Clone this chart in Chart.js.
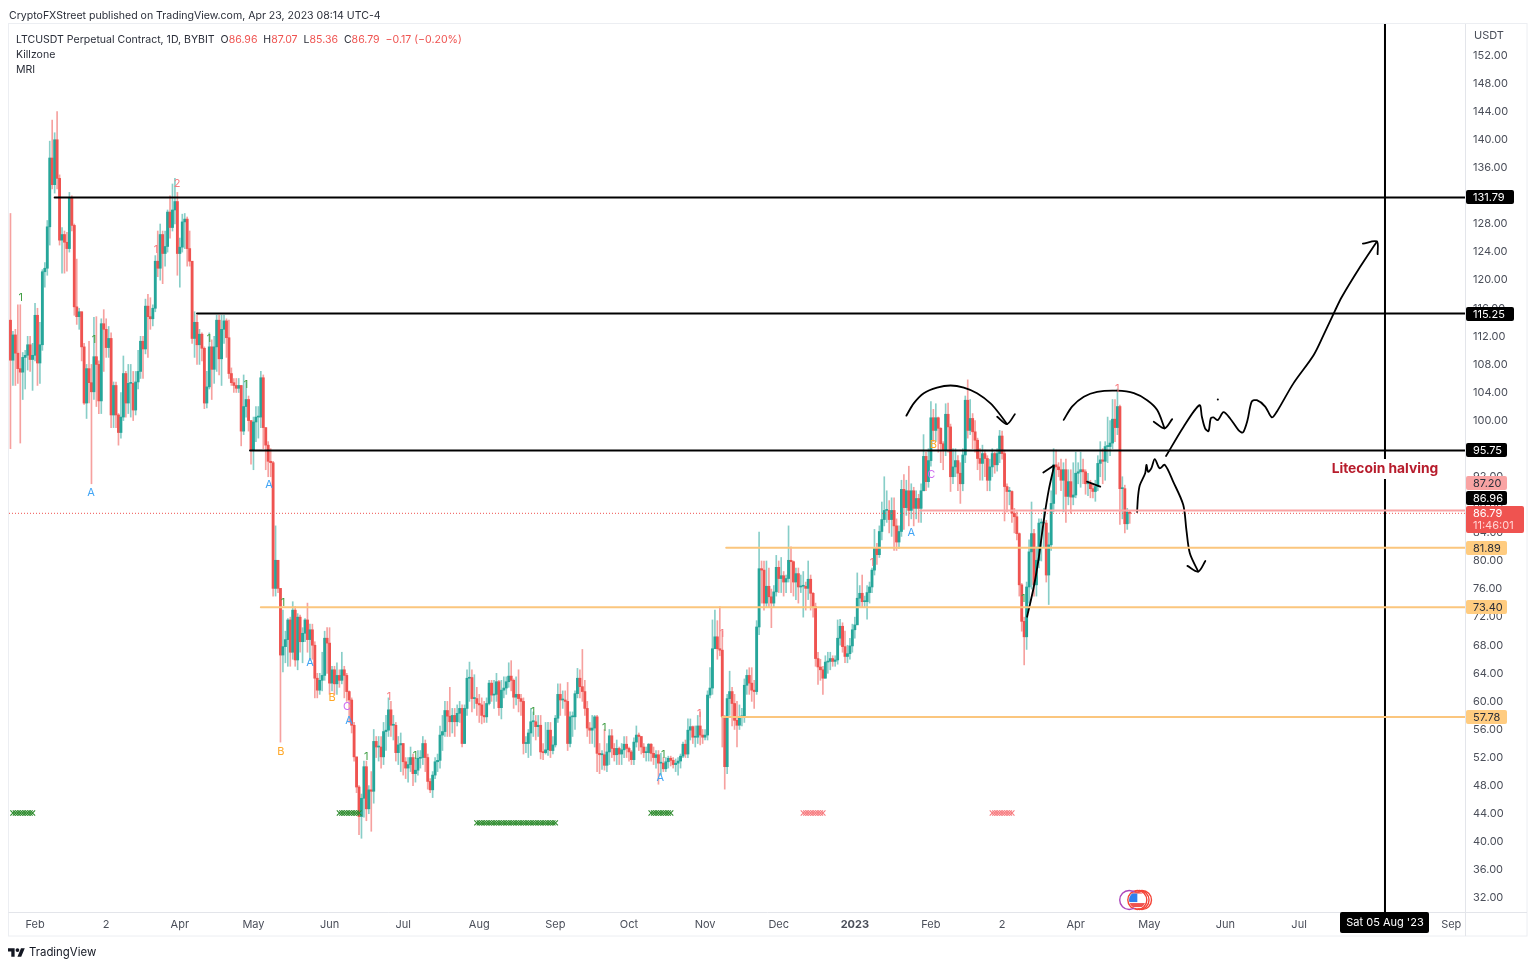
<!DOCTYPE html>
<html>
<head>
<meta charset="utf-8">
<title>LTCUSDT</title>
<script src="https://cdn.jsdelivr.net/npm/chart.js@4"></script>
<style>
html, body { margin: 0; padding: 0; background: #fff; width: 1536px; height: 967px; overflow: hidden; }
body { font-family: Inter, "Noto Sans", sans-serif; color: #2a2e39; font-size: 10.55px; }
#wrap { position: relative; width: 1536px; height: 967px; }
canvas { position: absolute; left: 0; top: 0; }
.txt { position: absolute; white-space: pre; line-height: 14px; }
.red { color: #ef5350; }
</style>
</head>
<body>
<div id="wrap">
  <canvas id="chart" width="1536" height="967"></canvas>
  <div class="txt" style="left:9px;top:9px">CryptoFXStreet published on TradingView.com, Apr 23, 2023 08:14 UTC-4</div>
  <div class="txt" style="left:16px;top:33px">LTCUSDT Perpetual Contract, 1D, BYBIT  O<span class="red">86.96</span>  H<span class="red">87.07</span>  L<span class="red">85.36</span>  C<span class="red">86.79</span>  <span class="red">−0.17 (−0.20%)</span></div>
  <div class="txt" style="left:16px;top:48px">Killzone</div>
  <div class="txt" style="left:16px;top:63px">MRI</div>
  <svg style="position:absolute;left:8px;top:946px" width="17" height="12" viewBox="0 0 36 24"><path d="M14 22H7V11H0V4h14v18zM28 22h-8l7.5-18h8L28 22z" fill="#131722"/><circle cx="20" cy="8" r="4" fill="#131722"/></svg>
  <div class="txt" style="left:29px;top:945px;font-size:11.4px;color:#131722">TradingView</div>
</div>
<script>
// Candles, one per day from 22 Jan 2022. Each open is the close of the day before
const firstOpen = 114.3;
const closes = [
  108.6,112.2,109.6,107.4,106.9,109,109.3,110.8,108.7,109.3,
  115,108.2,110.8,121.2,121.7,127.6,137.4,133.6,140,134.5,
  125.7,126.5,125.4,124.5,131.7,127.8,116.2,114.8,115.5,110.5,
  102.5,107.4,105.4,104.1,109.1,108,102.8,113.8,113,110.4,
  111.7,100.8,105,100.8,98.3,100.5,106.7,102.5,105.3,105.3,
  101.5,105.5,107,111.3,110.2,116.3,114.8,114.5,116,122.7,
  121.7,126.5,123.8,124.8,129.7,127.5,130,131.2,123.8,124.7,
  128.3,128.7,124.5,122.7,111.7,114,110.8,112.3,110.3,102.5,
  104.8,110.5,107.3,110.5,114.3,108.8,113,114.2,111.8,106.7,
  105.4,105,104.6,105,98.5,102,103,100,95.8,99.8,
  100.5,100.5,106.1,99,96.5,94.2,94,76.1,80.1,76.1,
  66.6,67.8,68.8,71.6,67,73,65.9,72,68.5,69.7,
  71.6,68.8,70.2,68,63.3,61.6,63,63.7,69,68.3,
  62.6,64.5,62.5,63.7,63,64.5,63.7,61.4,60.2,56.6,
  52.1,47.8,43.6,46.2,50.7,44.7,47.4,47.2,54.3,53.5,
  53.5,52.1,55.7,55.9,58.8,56.6,56.6,52.7,53.8,54,
  51.4,50.5,51,52,49.7,50.2,51.9,52,54,52,
  48.6,47.4,49.5,51.4,51.6,55.2,55.7,58.7,57.9,57.1,
  58,57.1,58.3,59,54,59,63.3,63.4,60.4,60.4,
  59.7,59.5,58,57.8,59.7,62.6,60.9,61,62.8,59.1,
  61.6,61.9,62.8,63.6,63,60.6,61,60.4,60,54,
  54,55.5,57.1,57.1,56.4,56.6,52.8,52.7,53.1,55.9,
  53,53.8,57.6,61,60.2,60.2,60,54,57.8,57.8,
  61.1,63.3,62.1,61.4,59,56.2,55.9,56.2,57.8,52.6,
  52.4,52.4,50.9,52.8,55.1,53.3,52.4,53.3,52.5,53.1,
  53.9,53.3,52.8,51.7,54.2,55.2,55,53.5,52.7,52.7,
  53.9,52.6,52,52.4,51.2,51.2,50.4,51.4,51.9,51.6,
  51,51.2,51.5,52.2,53.9,52.5,55.9,56.4,54.9,54.9,
  56.5,55.2,54.9,55.2,60.9,61.9,67.5,69.2,67.5,67.3,
  57.8,50.7,60.4,61.4,59.7,57.3,56.6,57.8,57.8,62.3,
  63.7,62.6,61.6,61.4,70.6,78.9,78.7,74,76.4,74.9,
  74,75.6,79.1,77.5,77.9,77,77.5,80.1,79.9,77,
  78.2,76.3,76.4,76.4,76.1,77.4,75.4,73.5,66.1,64.9,
  64.5,63.3,65.6,65.7,66.1,65.7,65.9,69,70.7,67.8,
  66.4,66.8,67.9,70.2,70.9,74.7,75.4,74.2,74.2,75.5,
  76.3,78.7,81.8,80.9,84.2,85.9,87.2,87.2,85.9,87.2,
  85,82.7,84.2,90.2,87.6,90,87.2,90,87.5,88.9,
  87.5,90,94.9,91.3,94.3,100.4,98.6,100.4,98.9,96.7,
  95.8,100.9,99.1,92,93.4,94.3,92.5,91,95.1,102.9,
  98.6,100.3,98.4,97.2,94.6,93.9,95.3,94.6,91.5,93.4,
  95.3,93.7,95.3,97.8,95.3,90.6,89.9,89.9,86.8,86.3,
  83.9,76.6,71.4,69.2,76.3,81.3,83.9,76.6,80.1,85.4,
  85.4,85.4,78,82.3,88.2,93.7,93.4,93,91.5,93,
  89.2,91.3,89.1,89.4,92.5,92.7,93,92.7,91,91,
  90.3,89.9,90.6,93.9,94.4,94.2,96.3,96.3,96.8,100.2,
  99,102,90.3,90.3,85.3,86.96,86.79
];
const highs = [
  129.5,112.7,113,116.5,116.5,109.7,110,112,112,111,
  116.7,116,114,121.5,122.5,128.5,139.8,142.8,141,144,
  135,127.5,127,126.8,132.5,132,128,123,116,115.5,
  111,108,111.3,108,114.7,114.8,108.5,114.5,115.8,114.5,
  113.4,112.5,105.5,105.5,101,104,109.2,107,108,108,
  107,107,110,112,112,117.3,118,117.5,116.5,123.5,
  127,128,127,127,130,132,133.7,134.5,132.5,126,
  129.4,129.5,129,127,122.7,115.5,115,113,112.5,110.5,
  107,112.5,111.5,112,115,115,115,115,114.5,114.3,
  107.5,106,106,106,105,106.5,105.5,103.5,100,100.5,
  102,102,107,106.5,99,97,96,94.2,85,80,
  73.5,73,70,71.8,72,74.2,73.5,72.5,72.3,70.5,
  71.8,74,71,71,68.5,64,64,67,70,70.5,
  70.5,65,65,65.5,64.5,67,65,64,61.5,60.5,
  57,52,48,46.8,51.5,51.5,48,50,56,55,
  55,55,57,58,60.5,60,58,57,55,55.5,
  54,52,52,53.5,52.5,52,53,53,55,54.5,
  52.5,49,50,52,52.5,56.5,58,60,60,62,
  59,59,59.5,60,59.5,59.5,64.5,65.6,64.5,63.8,
  62,61,60.5,60,60.5,63,63,63,64,63,
  63,63.5,63.5,65.5,65.8,63.2,63.5,64.5,61,60.5,
  55,56,59,58.5,58,58,58,54,57,57,
  57,55,58,62.5,62.5,61.5,61.5,62.7,58.5,58.5,
  61.5,64.7,64.5,67.4,63,60,57,58,58,58,
  54,53,56,54,56,56,54,54.5,53.5,54,
  55,55,53.5,53,54.8,56.5,55.5,55,54,53.5,
  54,54,53.5,53,53,52.6,52,52,52.2,52.2,
  52,51.8,52,52.5,54.2,54.5,57.5,57.5,56.5,56.5,
  58,58.5,56,56,61.5,64.8,71.6,73,71.5,73.5,
  70,58,61,64.3,62,61,60,59.5,59,63.2,
  64.5,64.8,64.8,63,71.5,84.1,80,80,80,79,
  76,76.5,80.8,80,80.5,78.5,78,85,82,80,
  79,79,78,78.5,77,80,78,75.5,74,67,
  66,65,66.5,67,67,66.5,66.5,71.6,71.7,71.2,
  70,68,69,71,72,78.3,76.5,78,75,76.5,
  77,79,84.5,82.5,85,88.4,92,90,88.6,89,
  89,86,85,91.5,92.3,91.5,93.5,91,90.5,90,
  89.5,91,98,95.5,96,102.7,101.6,102.4,100.5,99,
  97,102.4,102.5,99.5,96,96,95,94,96,103.5,
  105.8,103,101,100,97.5,96,96.5,95.8,95,94.5,
  96,95.5,96,98.6,98.5,95.8,91,90.5,90,87.5,
  87,84,76.8,72,77,83,88.4,84.5,82,86,
  86,87.5,85.8,84,90,96,95.8,94,94.5,94,
  94.5,93,93,94,95.5,94,95.5,94.5,93,92.5,
  91.5,91,91.5,95,97,96,97,100.5,100,103,
  103,104.5,102.2,92,90.8,87.5,87.07
];
const lows = [
  96,105,105,105.3,96.8,103,104.5,107.2,107,104.3,
  108.5,105,105.3,110,119,120.7,125,133,132.4,133,
  125,121,121,121.3,124,127,115,113.7,113,108.5,
  102.3,100.3,102.5,91,103,102,101,101,107,109,
  109,99,99,99,96.5,97.5,100,100.5,101,100.5,
  100,100.8,104.5,106,106,109.5,109,113,113.5,115.5,
  120.5,120,119.5,122,124,126,127,128,120.7,119,
  124,124.5,122,122,111,109,108,108,108.5,101.7,
  101.8,104.5,103,105.3,107,106.5,105,111,109,106,
  105,104,104,104,96.4,98,100.5,98.5,93.8,93,
  97,97.5,99,96,93,92,92,75,75,75.5,
  54.2,64.2,65.5,65,65,66,65,64.5,67,65.5,
  68.5,67,65.8,66,60.5,60.5,61,61.5,63,64,
  61,61.5,61,61,62,62.5,60.5,60,57,55.5,
  51.5,47,41,40.5,43.5,43,44,41.5,45.5,52,
  51.5,50.5,51,53,55,55,54.5,51.5,51,50,
  49.5,49,48.5,50,48,48.5,49.5,50.5,51,50,
  47.5,47,46.3,49,50,50.5,53,55,55,55,
  55.5,55,56.5,57,53.5,54,58,60,58.5,59,
  58,57,56.8,57,57,59.5,60,59,60,58,
  57.5,60.5,61,62,61.5,59,59.5,58.5,58,52.5,
  52.7,52,52.3,55,54.5,55,51.8,51.7,52.5,52.3,
  52,52.5,53.5,57,58,59,58,53,53.5,55,
  56,60.5,60.5,60,58,55,54,54,53.5,50,
  49.7,50.3,50.2,50,51,52,51.5,51,51,51,
  52,52,51.5,51,51,53.5,53,52.5,52,51.5,
  51.5,51.5,51,50.5,48.2,49.5,50,50,50.5,50.8,
  50.5,50,49.5,50.5,52,52,52,54.5,54,53.5,
  54,53.8,54,54.5,54.5,60.5,61,67.5,66,66.5,
  53.5,47.5,49.7,58,56.5,56,53.5,56,56.5,57,
  61,61,60,59,61,69.5,74,73,73.5,73.5,
  70.5,73.5,75,75.5,75.5,75,75.5,77,75.5,75,
  74.5,74,75.5,72,73,74.5,73,72,65,62.4,
  63,61,63.3,64,64.5,65,65,65.3,68,67,
  65.5,65.5,66,67,69,71,73.5,73.5,73.5,71.7,
  74,75.5,78,79.5,80.5,83,85,85.5,84,83.5,
  81.5,81.5,81.8,83.5,84.5,86.5,85,86,85,86,
  85.5,85.5,90,90,90.5,93.5,97,97,95.5,94,
  93,95,95.5,89.9,91,92,90,88.2,90,94,
  97.5,98,96,95.5,93,91.5,91.5,92,90,90,
  92,92.5,92.8,94,94.5,85.7,87,88,85.5,84,
  83,75,70,65.2,67.4,74,76,75,75,79,
  80,82,77,73.8,81.5,87,89.5,92,90,87,
  85.5,88,86.8,88,89,91,90.5,91,89.5,89.3,
  89,89,88.5,90,92,91,91.5,94,95,96,
  97,98,85.2,86,84,84.5,85.36
];
const opens = closes.map((c, i) => i ? closes[i - 1] : firstOpen);

// Axis ticks
const startDate = Date.UTC(2022, 0, 22);
const dayIndex = s => Math.round((Date.parse(s) - startDate) / 86400000);
const tickDates = ['2022-02-01','2022-03-02','2022-04-01','2022-05-01','2022-06-01','2022-07-01','2022-08-01','2022-09-01','2022-10-01','2022-11-01','2022-12-01','2023-01-01','2023-02-01','2023-03-02','2023-04-01','2023-05-01','2023-06-01','2023-07-01','2023-09-01'];
const tickLabels = ['Feb','2','Apr','May','Jun','Jul','Aug','Sep','Oct','Nov','Dec','2023','Feb','2','Apr','May','Jun','Jul','Sep'];
const halvingDate = '2023-08-05';

// Drawn levels: price, first candle
const blackLevels = [[131.79, 18], [115.25, 76], [95.75, 97.6]];
const orangeLevels = [[81.89, 291.6], [73.40, 102], [57.78, 290]];
const pinkLevels = [[87.20, 370.6]];
const lastPrice = 86.79;

// Hand drawn strokes as [candle, price]
const strokes = [
  [[365,100.7],[368,102.45],[372.1,103.9],[377.5,104.7],[383,105],[388.4,104.7],[393.8,103.9],[399.3,102.45],[403.3,100.8],[406,99.5]],
  [[402,100.55],[406,99.5],[409.2,100.9]],
  [[429.1,100.1],[432.5,102],[437.3,103.4],[442.7,104.1],[450.9,104.26],[457.7,103.9],[463.1,102.9],[467.2,101.5],[470.2,98.9]],
  [[465.8,99.84],[470.2,98.9],[473.3,100.2]],
  [[414.2,72.06],[416.9,76.3],[419,80.6],[421,85.8],[423,90.1],[425.1,93.4]],
  [[420.8,92.6],[425.1,93.6]],
  [[438.6,91.3],[444,90.6]],
  [[459,87],[459.4,89.2],[460.1,90.8],[462.3,92.5],[462.8,93.7],[463.5,92.7],[464.8,93.2],[466.2,94.5],[468.2,93.2],[470.3,93.7],[473.7,91.3],[477.8,88],[479.1,84.4],[480.5,81.1],[483.9,78.5]],
  [[479.5,79.3],[483.9,78.5],[486.8,80]],
  [[470.8,94.95],[477.9,99.1],[484.4,102.2],[485.4,100.55],[486.7,98.9],[488.1,98.5],[489,100.3],[490.1,100.45],[491.9,100.07],[494.2,101.2],[496.9,100.3],[500.3,98.65],[502.1,98.3],[504,100.07],[505.7,102.7],[507.8,102.9],[511.2,102],[513.9,100.45],[516,101.3],[522.7,105.3],[530.9,109.3],[535,112.2],[539.7,115.7],[542.4,117.6],[549.9,121.9],[556.7,125.5]],
  [[551,125.2],[556.7,125.5],[557,123.7]]
];
const dotMark = [[491.9, 103]];

// Indicator letters: candle, price, text
const greenMarks = [[4.2,117.5,'1'],[34,111.5,'1'],[80.9,111.6,'1'],[96,105.1,'1'],[111,74,'1'],[144.9,52.1,'1'],[164.8,52.2,'1'],[212.9,58.6,'1'],[241.9,56.3,'1'],[265.9,52.4,'1'],[412.6,74.7,'1']];
const redMarks = [[59.3,124.4,'1'],[67.9,133.7,'2'],[154.2,60.6,'1'],[280.6,58.3,'1'],[289.9,69.7,'1'],[351,79.7,'1'],[450.9,104.6,'1']];
const blueMarks = [[32.8,89.7,'A'],[105.3,90.8,'A'],[122,65.5,'A'],[137.9,57.3,'A'],[264.7,49.2,'A'],[367,84.1,'A']];
const orangeMarks = [[110.2,52.8,'B'],[131,60.5,'B'],[376,96.5,'B']];
const purpleMarks = [[137.1,59.3,'C'],[375.1,92.3,'C']];

// MRI bands: first candle, last candle, price
const mriGreen = [[1,9,44.1],[134,142,44.1],[190,222,42.7],[261,269,44.1]];
const mriRed = [[323,331,44.1],[400,408,44.1]];

// Event rings at the bottom: candle, colour
const eventPrice = 31.7;
const eventRings = [[455.8,'#ab47bc'],[459.1,'#f44336'],[460,'#f44336'],[461,'#f44336']];

// Price tags: text, price, pixel shift, fill, text colour
const priceTags = [
  ['131.79',131.79,0,'#000','#fff'],
  ['115.25',115.25,0,'#000','#fff'],
  ['95.75',95.75,0,'#000','#fff'],
  ['87.20',87.20,-27,'#f9a3a3','#2a2e39'],
  ['86.96',86.96,-14,'#000','#fff'],
  ['81.89',81.89,0,'#ffcc80','#2a2e39'],
  ['73.40',73.40,0,'#ffcc80','#2a2e39'],
  ['57.78',57.78,0,'#ffcc80','#2a2e39']
];

const UP = '#26a69a', DOWN = '#ef5350';
const isUp = closes.map((c, i) => c >= opens[i]);
const candleX = closes.map((c, i) => i);
const fontName = 'Inter, "Noto Sans", sans-serif';

function lineSet(points, color, width, extra) {
  return Object.assign({ type: 'line', data: points.map(p => ({ x: p[0], y: p[1] })), borderColor: color, borderWidth: width, pointRadius: 0, tension: 0, order: 0, borderCapStyle: 'round', borderJoinStyle: 'round' }, extra || {});
}
function levelSet(level, color, width) {
  return lineSet([[level[1], level[0]], [xMax, level[0]]], color, width);
}

const xMin = -0.6, xMax = 592.6, yMin = 30, yMax = 156.49;
const halvingX = dayIndex(halvingDate);

const datasets = [
  { type: 'bar', data: candleX.map(i => ({ x: i, y: [lows[i], highs[i]] })), backgroundColor: isUp.map(u => u ? 'rgba(38,166,154,.55)' : 'rgba(239,83,80,.55)'), barThickness: 1, grouped: false, order: 4 },
  { type: 'bar', data: candleX.map(i => ({ x: i, y: [opens[i], closes[i]] })), backgroundColor: isUp.map(u => u ? UP : DOWN), barThickness: 2.2, minBarLength: 1, grouped: false, order: 3 },
  lineSet([[xMin, lastPrice], [xMax, lastPrice]], DOWN, 1, { borderDash: [1, 2], borderCapStyle: 'butt', order: 2 })
];
pinkLevels.forEach(l => datasets.push(levelSet(l, '#f9a3a3', 2)));
orangeLevels.forEach(l => datasets.push(levelSet(l, '#fbc67e', 2)));
blackLevels.forEach(l => datasets.push(levelSet(l, '#000', 2)));
strokes.forEach(s => datasets.push(lineSet(s, '#000', 1.8, { tension: 0.3 })));
datasets.push(lineSet(dotMark, '#000', 0, { pointRadius: 1, pointBackgroundColor: '#000', showLine: false }));
datasets.push(lineSet([[halvingX, yMin], [halvingX, yMax]], '#000', 2, { order: 1 }));

function addBands(bands, color) {
  bands.forEach(b => {
    const pts = [];
    for (let i = b[0]; i <= b[1]; i++) pts.push([i, b[2]]);
    datasets.push(lineSet(pts, color, 1, { showLine: false, pointRadius: 3.6, pointStyle: 'crossRot', pointBorderColor: color, pointBorderWidth: 1.1 }));
  });
}
addBands(mriGreen, '#2e8b2e');
addBands(mriRed, '#f77c80');

function roundBox(ctx, x, y, w, h, fill) {
  ctx.fillStyle = fill;
  ctx.beginPath();
  ctx.roundRect(x, y, w, h, 2);
  ctx.fill();
}

const overlayPlugin = {
  id: 'overlay',
  beforeDraw(chart) {
    const ctx = chart.ctx, a = chart.chartArea;
    ctx.save();
    ctx.strokeStyle = '#eceef2';
    ctx.lineWidth = 1;
    ctx.strokeRect(8.5, a.top - 0.5, 1527 - 8.5, 936 - a.top + 0.5);
    ctx.strokeStyle = '#e3e5ea';
    ctx.beginPath();
    ctx.moveTo(a.right + 0.5, a.top); ctx.lineTo(a.right + 0.5, 936);
    ctx.moveTo(8.5, a.bottom + 0.5); ctx.lineTo(1527, a.bottom + 0.5);
    ctx.stroke();
    ctx.restore();
  },
  afterDraw(chart) {
    const ctx = chart.ctx, x = chart.scales.x, y = chart.scales.y, a = chart.chartArea;
    ctx.save();
    ctx.textBaseline = 'middle';

    // indicator letters
    ctx.textAlign = 'center';
    ctx.font = '11px ' + fontName;
    [[greenMarks, '#43a047'], [redMarks, '#f77c80'], [blueMarks, '#42a5f5'], [orangeMarks, '#ffa726'], [purpleMarks, '#ce6bf0']].forEach(set => {
      ctx.fillStyle = set[1];
      set[0].forEach(m => ctx.fillText(m[2], x.getPixelForValue(m[0]), y.getPixelForValue(m[1])));
    });

    // halving note
    const hx = x.getPixelForValue(halvingX);
    ctx.fillStyle = '#fff';
    ctx.fillRect(hx - 56, 459, 112, 20);
    ctx.fillStyle = '#b71c2c';
    ctx.font = 'bold 13.8px ' + fontName;
    ctx.fillText('Litecoin halving', hx, 468.5);

    // event rings, with a flag inside the first red ring
    const fy = y.getPixelForValue(eventPrice);
    ctx.lineWidth = 1.4;
    eventRings.slice().reverse().forEach(r => {
      ctx.strokeStyle = r[1];
      ctx.beginPath(); ctx.arc(x.getPixelForValue(r[0]), fy, 9.5, 0, Math.PI * 2); ctx.stroke();
    });
    const fx = x.getPixelForValue(eventRings[1][0]);
    ctx.save();
    ctx.beginPath(); ctx.arc(fx, fy, 8.3, 0, Math.PI * 2); ctx.clip();
    ctx.fillStyle = '#fff';
    ctx.fillRect(fx - 9, fy - 9, 18, 18);
    ctx.fillStyle = '#ef5350';
    ctx.fillRect(fx - 9, fy - 9, 18, 2.5);
    ctx.fillRect(fx - 9, fy + 3, 18, 4);
    ctx.fillStyle = '#2f80ed';
    ctx.fillRect(fx - 9, fy - 6.5, 9, 8.5);
    ctx.restore();

    // axis caption and price tags
    ctx.textAlign = 'left';
    ctx.font = '11px ' + fontName;
    ctx.fillStyle = '#4a4e59';
    ctx.fillText('USDT', 1474, 35.5);
    priceTags.forEach(t => {
      const ty = Math.round(y.getPixelForValue(t[1])) + t[2];
      roundBox(ctx, a.right + 1, ty - 7, t[0].length > 5 ? 48 : 41, 14, t[3]);
      ctx.fillStyle = t[4];
      ctx.fillText(t[0], 1473, ty + 0.5);
    });
    roundBox(ctx, a.right + 1, 506, 58, 27, '#ef5350');
    ctx.fillStyle = '#fff';
    ctx.fillText('86.79', 1473, 513.5);
    ctx.fillStyle = '#ffd5d4';
    ctx.fillText('11:46:01', 1473, 526);

    // date tag under the halving line
    roundBox(ctx, 1340, 912, 89, 21, '#000');
    ctx.fillStyle = '#fff';
    ctx.textAlign = 'center';
    ctx.fillText("Sat 05 Aug '23", hx, 923);
    ctx.restore();
  }
};

new Chart(document.getElementById('chart'), {
  type: 'bar',
  data: { datasets },
  plugins: [overlayPlugin],
  options: {
    responsive: false,
    animation: false,
    events: [],
    layout: { padding: { left: 9, top: 24, right: 9, bottom: 31 } },
    plugins: { legend: { display: false }, tooltip: { enabled: false } },
    scales: {
      x: {
        type: 'linear', min: xMin, max: xMax, offset: false,
        grid: { display: false, drawTicks: false }, border: { display: false },
        afterBuildTicks: s => { s.ticks = tickDates.map(d => ({ value: dayIndex(d) })); },
        afterFit: s => { s.height = 24; s.paddingLeft = s.paddingRight = s.paddingTop = s.paddingBottom = 0; },
        ticks: {
          autoSkip: false, maxRotation: 0, padding: 6, color: '#4a4e59',
          font: c => ({ family: fontName, size: 11, weight: tickLabels[c.index] === '2023' ? 'bold' : 'normal' }),
          callback: (v, i) => tickLabels[i]
        }
      },
      y: {
        type: 'linear', position: 'right', min: yMin, max: yMax,
        grid: { display: false, drawTicks: false }, border: { display: false },
        afterBuildTicks: s => { const t = []; for (let v = 32; v <= 152; v += 4) t.push({ value: v }); s.ticks = t; },
        afterFit: s => { s.width = 62; s.paddingLeft = s.paddingRight = s.paddingTop = s.paddingBottom = 0; },
        ticks: { autoSkip: false, padding: 8, color: '#4a4e59', font: { family: fontName, size: 11 }, callback: v => v.toFixed(2) }
      }
    }
  }
});
</script>
</body>
</html>
